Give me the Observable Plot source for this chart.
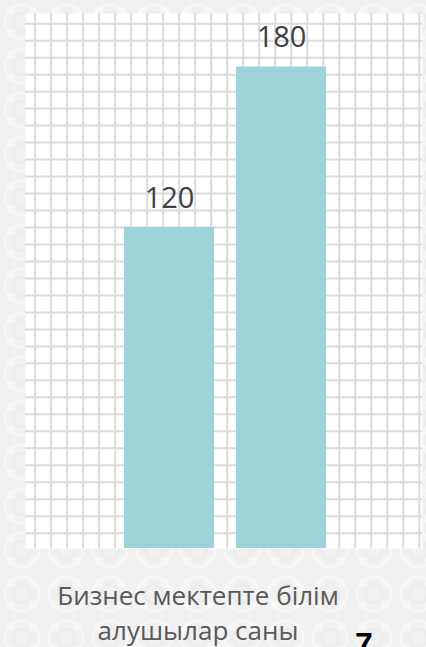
<!DOCTYPE html>
<html>
<head>
<meta charset="utf-8">
<script src="https://cdn.jsdelivr.net/npm/d3@7"></script>
<script src="https://cdn.jsdelivr.net/npm/@observablehq/plot@0.6"></script>
<style>
  html, body { margin: 0; padding: 0; }
  body {
    width: 426px; height: 647px; overflow: hidden;
    background-color: #f1f1f1;
    background-image:
      radial-gradient(circle at 50% 50%, transparent 7px, rgba(0,0,0,0.018) 8px, rgba(0,0,0,0.018) 10px, transparent 11px, transparent 15px, rgba(255,255,255,0.45) 16px, rgba(255,255,255,0.45) 18px, transparent 19px),
      radial-gradient(circle at 50% 50%, rgba(255,255,255,0.35) 3px, transparent 5px);
    background-size: 44px 44px, 22px 22px;
    font-family: "Open Sans", sans-serif;
  }
  #wrap { position: relative; width: 426px; height: 647px; overflow: hidden; }
  .layer { position: absolute; left: 0; top: 0; }
  .caption {
    position: absolute; left: 38px; width: 320px; top: 578px;
    text-align: center; font-size: 26px; line-height: 35px; color: #595959;
    font-family: "Open Sans", sans-serif;
  }
  .page {
    position: absolute; left: 355px; top: 628px;
    font-family: "Liberation Sans", Arial, sans-serif; font-weight: bold;
    font-size: 32px; line-height: 32px; color: #000;
  }
</style>
</head>
<body>
<div id="wrap">
  <div id="grid" class="layer"></div>
  <div id="bars" class="layer"></div>
  <div class="caption" id="caption"></div>
  <div class="page">7</div>
</div>
<script>
// Data
const categories = ["1", "2"];
const values = [120, 180];
const labels = ["120", "180"];
const captionLines = ["Бизнес мектепте білім", "алушылар саны"];

// Decorative squared-paper grid (column / row indices)
const gridCols = d3.range(0, 25);
const gridRows = d3.range(0, 31);

const data = categories.map((c, i) => ({cat: c, value: values[i], label: labels[i]}));

document.getElementById("caption").innerHTML = captionLines.join("<br>");

const W = 426, H = 560;
const common = {
  width: W, height: H,
  marginTop: 13, marginBottom: 12, marginLeft: 25, marginRight: 4,
  style: {background: "transparent", fontFamily: "Open Sans, sans-serif"}
};

const gridPlot = Plot.plot({
  ...common,
  x: {type: "linear", domain: [-0.6, 24.2], axis: null},
  y: {type: "linear", domain: [-0.9, 30.6], axis: null},
  marks: [
    Plot.frame({fill: "white", stroke: null}),
    Plot.ruleX(gridCols, {x: d => d, stroke: "#d9dcdc", strokeWidth: 2}),
    Plot.ruleY(gridRows, {y: d => d, stroke: "#d9dcdc", strokeWidth: 2})
  ]
});
document.getElementById("grid").appendChild(gridPlot);

const barPlot = Plot.plot({
  ...common,
  x: {type: "band", domain: categories, range: [123, 326], paddingInner: 0.2, paddingOuter: 0, axis: null},
  y: {domain: [0, 200], axis: null},
  marks: [
    Plot.barY(data, {x: "cat", y: "value", fill: "#9dd3d8"}),
    Plot.text(data, {x: "cat", y: "value", text: "label", dy: -29, fontSize: 29, fill: "#404040", fontFamily: "Open Sans, sans-serif"})
  ]
});
document.getElementById("bars").appendChild(barPlot);
</script>
</body>
</html>
